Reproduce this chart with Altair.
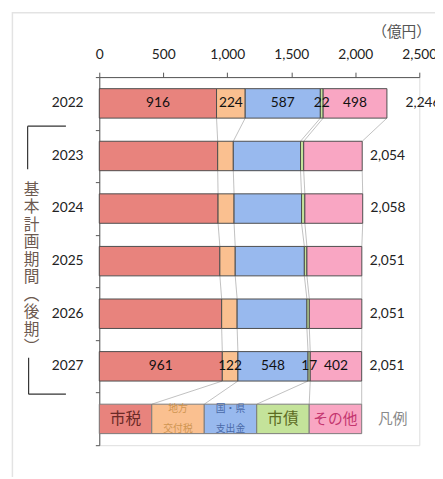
import altair as alt
import pandas as pd

# ---- data ----
years = ["2022", "2023", "2024", "2025", "2026", "2027"]
series_names = ["市税", "地方交付税", "国・県支出金", "市債", "その他"]
shizei = [916, 925, 928, 942, 956, 961]
koufuzei = [224, 122, 125, 120, 121, 122]
kokken = [587, 525, 527, 540, 545, 548]
shisai = [22, 25, 26, 20, 19, 17]
sonota = [498, 457, 452, 429, 410, 402]
totals = [2246, 2054, 2058, 2051, 2051, 2051]
legend_widths = [410, 410, 410, 410, 410]
legend_texts = ["市税", "地方\n交付税", "国・県\n支出金", "市債", "その他"]
x_ticks = [0, 500, 1000, 1500, 2000, 2500]

colors = ["#E8837D", "#FAC090", "#98B9EE", "#C4E39A", "#F9A6C3"]
legend_text_colors = ["#6b2a26", "#cf9550", "#4a6aa8", "#5c6b22", "#c4356f"]
legend_text_sizes = [16, 10, 10, 16, 15]

all_vals = [shizei, koufuzei, kokken, shisai, sonota]
FONT = "Lato, 'Noto Sans CJK JP', sans-serif"
JFONT = "'Noto Sans CJK JP', sans-serif"

W, H = 326, 375
PX_X = W / 2500.0      # pixels per unit on x
PX_Y = H / 7.0         # pixels per row on y

# ---- build tables ----
seg_rows = []
cums = []
for i, yr in enumerate(years):
    cum = 0
    c = [0]
    for s, vals in zip(series_names, all_vals):
        v = vals[i]
        seg_rows.append(dict(row=i, year=yr, series=s, x0=cum, x1=cum + v, value=v,
                             y0=i + 0.22, y1=i + 0.78, ym=i + 0.5,
                             xm=cum + v / 2, show=i in (0, 5)))
        cum += v
        c.append(cum)
    cums.append(c)
segs = pd.DataFrame(seg_rows)

leg_rows = []
cum = 0
c = [0]
for s, w, t, tc, ts in zip(series_names, legend_widths, legend_texts,
                            legend_text_colors, legend_text_sizes):
    nl = t.count("\n")
    leg_rows.append(dict(row=6, series=s, x0=cum, x1=cum + w, y0=6.22, y1=6.78,
                         ym=6.5, yt=6.5 - nl * 10.0 / PX_Y, xm=cum + w / 2,
                         text=t, tc=tc, ts=ts))
    cum += w
    c.append(cum)
cums.append(c)
leg = pd.DataFrame(leg_rows)

line_rows = []
for i in range(len(cums) - 1):
    for k in range(1, 6):
        line_rows.append(dict(xa=cums[i][k], xb=cums[i + 1][k], ya=i + 0.78, yb=i + 1.22))
lines = pd.DataFrame(line_rows)

tot = pd.DataFrame(dict(row=list(range(6)), year=years, total=totals,
                        end=[c[-1] for c in cums[:6]], ym=[i + 0.5 for i in range(6)],
                        label=[f"{t:,}" for t in totals]))

# bracket decoration, expressed in the chart's own units
bx_a = [-73, -73, -72, -72]
bx_b = [-34, -73, -72, -34]
by_a = [50, 50, 286, 323]
by_b = [50, 94, 323, 323]
br = pd.DataFrame(dict(xa=[v / PX_X for v in bx_a], xb=[v / PX_X for v in bx_b],
                       ya=[v / PX_Y for v in by_a], yb=[v / PX_Y for v in by_b]))

xscale = alt.Scale(domain=[0, 2500], nice=False, zero=False)
yscale = alt.Scale(domain=[0, 7], reverse=True, nice=False, zero=False)
color_scale = alt.Scale(domain=series_names, range=colors)

x_axis = alt.Axis(orient="top", values=x_ticks, grid=False,
                  labelExpr="format(datum.value, ',')",
                  title=None, labelFontSize=14, labelFont=FONT,
                  labelColor="#222", domainColor="#555", tickColor="#555",
                  tickSize=5, labelPadding=11, labelFlush=False)
y_axis = alt.Axis(values=list(range(8)), labels=False, grid=False, title=None,
                  tickSize=4, domainColor="#555", tickColor="#555")


def X(f):
    return alt.X(f, type="quantitative", scale=xscale, axis=x_axis)


def Y(f):
    return alt.Y(f, type="quantitative", scale=yscale, axis=y_axis)


bars = alt.Chart(segs).mark_rect(stroke="#4d4d4d", strokeWidth=1).encode(
    x=X("x0"), x2="x1", y=Y("y0"), y2="y1",
    color=alt.Color("series:N", scale=color_scale, legend=None),
)

seg_labels = alt.Chart(segs).transform_filter("datum.show").mark_text(
    fontSize=14, font=FONT, color="#111", baseline="middle", align="center"
).encode(x=X("xm"), y=Y("ym"), text="value:Q")

series_lines = alt.Chart(lines).mark_rule(color="#b0b0b0", strokeWidth=0.8).encode(
    x=X("xa"), x2="xb", y=Y("ya"), y2="yb")

legend_bar = alt.Chart(leg).mark_rect(stroke="#7a7a7a", strokeWidth=1).encode(
    x=X("x0"), x2="x1", y=Y("y0"), y2="y1",
    color=alt.Color("series:N", scale=color_scale, legend=None))

legend_txt = alt.Chart(leg).mark_text(font=JFONT, baseline="middle", align="center",
                                      lineBreak="\n", lineHeight=20).encode(
    x=X("xm"), y=Y("yt"),
    text="text:N",
    color=alt.Color("tc:N", scale=None),
    size=alt.Size("ts:Q", scale=None))

hanrei = alt.Chart(leg.head(1)).mark_text(font=JFONT, fontSize=15, color="#8a8a8a",
                                          align="left", baseline="middle").encode(
    x=alt.value(284), y=Y("ym"), text=alt.value("凡例"))

year_labels = alt.Chart(tot).mark_text(font=FONT, fontSize=14, color="#222",
                                       align="right", baseline="middle").encode(
    x=alt.value(-16), y=Y("ym"), text="year:N")

tot_first = alt.Chart(tot).transform_filter("datum.row == 0").mark_text(
    font=FONT, fontSize=14, color="#222", align="left", baseline="middle", dx=19
).encode(x=X("end"), y=Y("ym"), text="label:N")

tot_rest = alt.Chart(tot).transform_filter("datum.row > 0").mark_text(
    font=FONT, fontSize=14, color="#222", align="left", baseline="middle", dx=8
).encode(x=X("end"), y=Y("ym"), text="label:N")

one = pd.DataFrame({"k": [0]})
unit = alt.Chart(one).mark_text(font=JFONT, fontSize=15, color="#555",
                                align="right", baseline="middle").encode(
    x=alt.value(338), y=alt.value(-46), text=alt.value("（億円）"))

vtext = alt.Chart(one).mark_text(font=JFONT, fontSize=16, color="#6d5a50",
                                 align="center", baseline="middle",
                                 lineHeight=17.8).encode(
    x=alt.value(-69), y=alt.value(115),
    text=alt.value(["基", "本", "計", "画", "期", "間", "︵", "後", "期", "︶"]))

brackets = alt.Chart(br).mark_rule(color="#333", strokeWidth=1.2).encode(
    x=X("xa"), x2="xb", y=Y("ya"), y2="yb")

frame = alt.Chart(one).mark_rect(fill="transparent", stroke="#e3e3e3",
                                 strokeWidth=1.5).encode(
    x=alt.value(-88.5), x2=alt.value(600), y=alt.value(-65.5), y2=alt.value(600))

chart = alt.layer(
    frame, series_lines, bars, seg_labels, legend_bar, legend_txt, hanrei,
    year_labels, tot_first, tot_rest, unit, vtext, brackets
).properties(
    width=W, height=H,
    autosize=alt.AutoSizeParams(type="none"),
    padding={"left": 93, "top": 66, "right": 16, "bottom": 28},
).configure_view(strokeWidth=0, stroke="transparent").configure(background="white")

chart.save("out.html", embed_options={"renderer": "svg", "actions": False})
